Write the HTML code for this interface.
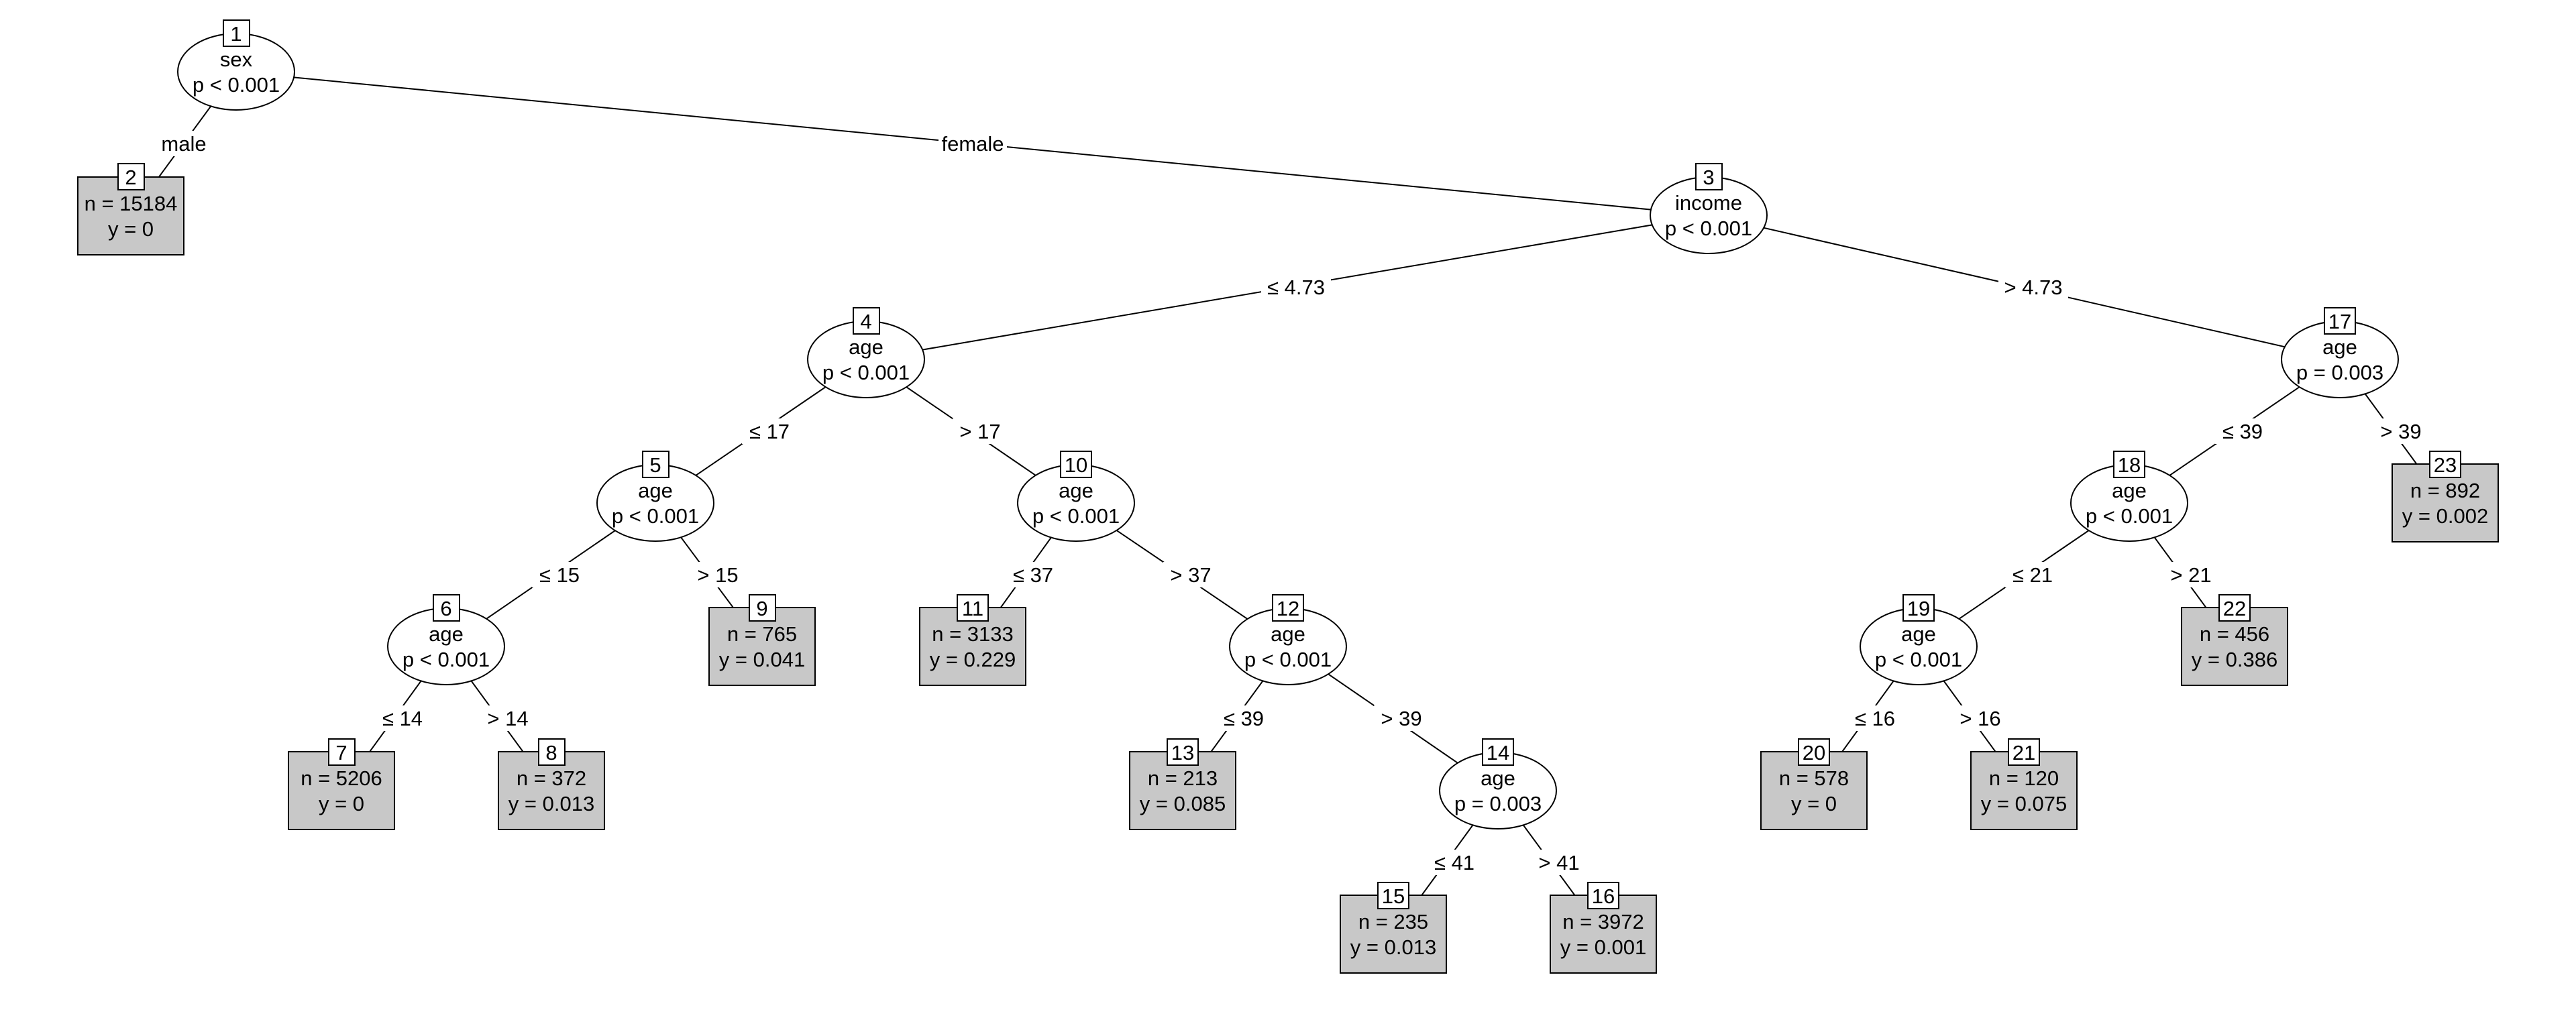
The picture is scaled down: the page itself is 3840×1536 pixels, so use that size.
<!DOCTYPE html>
<html><head><meta charset="utf-8"><style>
html,body{margin:0;padding:0;background:#fff;}
svg{display:block;}
text{font-family:"Liberation Sans",Arial,sans-serif;font-size:31px;fill:#000;text-anchor:middle;}
</style></head><body>
<svg width="3840" height="1536" viewBox="0 0 3840 1536" xmlns="http://www.w3.org/2000/svg">
<g stroke="#000" stroke-width="2" fill="none">
<line x1="352" y1="107" x2="195" y2="321"/>
<line x1="352" y1="107" x2="2547" y2="321"/>
<line x1="2547" y1="321" x2="1291" y2="536"/>
<line x1="2547" y1="321" x2="3488" y2="536"/>
<line x1="1291" y1="536" x2="977" y2="750"/>
<line x1="1291" y1="536" x2="1604" y2="750"/>
<line x1="977" y1="750" x2="665" y2="964"/>
<line x1="977" y1="750" x2="1136" y2="964"/>
<line x1="665" y1="964" x2="509" y2="1179"/>
<line x1="665" y1="964" x2="822" y2="1179"/>
<line x1="1604" y1="750" x2="1450" y2="964"/>
<line x1="1604" y1="750" x2="1920" y2="964"/>
<line x1="1920" y1="964" x2="1763" y2="1179"/>
<line x1="1920" y1="964" x2="2233" y2="1179"/>
<line x1="2233" y1="1179" x2="2077" y2="1393"/>
<line x1="2233" y1="1179" x2="2390" y2="1393"/>
<line x1="3488" y1="536" x2="3174" y2="750"/>
<line x1="3488" y1="536" x2="3645" y2="750"/>
<line x1="3174" y1="750" x2="2860" y2="964"/>
<line x1="3174" y1="750" x2="3331" y2="964"/>
<line x1="2860" y1="964" x2="2704" y2="1179"/>
<line x1="2860" y1="964" x2="3017" y2="1179"/>
</g>
<g fill="#fff">
<rect x="233" y="195" width="82" height="38"/>
<rect x="1399" y="195" width="102" height="38"/>
<rect x="1880" y="409" width="104" height="38"/>
<rect x="2979" y="409" width="104" height="38"/>
<rect x="1106" y="624" width="82" height="38"/>
<rect x="1420" y="624" width="82" height="38"/>
<rect x="793" y="838" width="82" height="38"/>
<rect x="1029" y="838" width="82" height="38"/>
<rect x="559" y="1052" width="82" height="38"/>
<rect x="716" y="1052" width="82" height="38"/>
<rect x="1499" y="838" width="82" height="38"/>
<rect x="1734" y="838" width="82" height="38"/>
<rect x="1813" y="1052" width="82" height="38"/>
<rect x="2048" y="1052" width="82" height="38"/>
<rect x="2127" y="1267" width="82" height="38"/>
<rect x="2283" y="1267" width="82" height="38"/>
<rect x="3302" y="624" width="82" height="38"/>
<rect x="3538" y="624" width="82" height="38"/>
<rect x="2989" y="838" width="82" height="38"/>
<rect x="3225" y="838" width="82" height="38"/>
<rect x="2754" y="1052" width="82" height="38"/>
<rect x="2911" y="1052" width="82" height="38"/>
</g>
<text x="274" y="225">male</text>
<text x="1450" y="225">female</text>
<text x="1932" y="439">≤ 4.73</text>
<text x="3031" y="439">&gt; 4.73</text>
<text x="1147" y="654">≤ 17</text>
<text x="1461" y="654">&gt; 17</text>
<text x="834" y="868">≤ 15</text>
<text x="1070" y="868">&gt; 15</text>
<text x="600" y="1082">≤ 14</text>
<text x="757" y="1082">&gt; 14</text>
<text x="1540" y="868">≤ 37</text>
<text x="1775" y="868">&gt; 37</text>
<text x="1854" y="1082">≤ 39</text>
<text x="2089" y="1082">&gt; 39</text>
<text x="2168" y="1297">≤ 41</text>
<text x="2324" y="1297">&gt; 41</text>
<text x="3343" y="654">≤ 39</text>
<text x="3579" y="654">&gt; 39</text>
<text x="3030" y="868">≤ 21</text>
<text x="3266" y="868">&gt; 21</text>
<text x="2795" y="1082">≤ 16</text>
<text x="2952" y="1082">&gt; 16</text>

<g stroke="#000" stroke-width="2" fill="#fff">
<ellipse cx="352" cy="107" rx="87" ry="57"/>
<ellipse cx="2547" cy="321" rx="87" ry="57"/>
<ellipse cx="1291" cy="536" rx="87" ry="57"/>
<ellipse cx="977" cy="750" rx="87" ry="57"/>
<ellipse cx="665" cy="964" rx="87" ry="57"/>
<ellipse cx="1604" cy="750" rx="87" ry="57"/>
<ellipse cx="1920" cy="964" rx="87" ry="57"/>
<ellipse cx="2233" cy="1179" rx="87" ry="57"/>
<ellipse cx="3488" cy="536" rx="87" ry="57"/>
<ellipse cx="3174" cy="750" rx="87" ry="57"/>
<ellipse cx="2860" cy="964" rx="87" ry="57"/>
</g>
<g stroke="#000" stroke-width="2" fill="#c8c8c8">
<rect x="116" y="264" width="158" height="116"/>
<rect x="430" y="1121" width="158" height="116"/>
<rect x="743" y="1121" width="158" height="116"/>
<rect x="1057" y="906" width="158" height="116"/>
<rect x="1371" y="906" width="158" height="116"/>
<rect x="1684" y="1121" width="158" height="116"/>
<rect x="1998" y="1335" width="158" height="116"/>
<rect x="2311" y="1335" width="158" height="116"/>
<rect x="2625" y="1121" width="158" height="116"/>
<rect x="2938" y="1121" width="158" height="116"/>
<rect x="3252" y="906" width="158" height="116"/>
<rect x="3566" y="692" width="158" height="116"/>
</g>
<g stroke="#000" stroke-width="2" fill="#fff">
<rect x="333" y="30" width="39" height="39"/>
<rect x="176" y="244" width="39" height="39"/>
<rect x="2528" y="244" width="39" height="39"/>
<rect x="1272" y="459" width="39" height="39"/>
<rect x="958" y="673" width="39" height="39"/>
<rect x="646" y="887" width="39" height="39"/>
<rect x="490" y="1102" width="39" height="39"/>
<rect x="803" y="1102" width="39" height="39"/>
<rect x="1117" y="887" width="39" height="39"/>
<rect x="1581" y="673" width="46" height="39"/>
<rect x="1427" y="887" width="46" height="39"/>
<rect x="1897" y="887" width="46" height="39"/>
<rect x="1740" y="1102" width="46" height="39"/>
<rect x="2210" y="1102" width="46" height="39"/>
<rect x="2054" y="1316" width="46" height="39"/>
<rect x="2367" y="1316" width="46" height="39"/>
<rect x="3465" y="459" width="46" height="39"/>
<rect x="3151" y="673" width="46" height="39"/>
<rect x="2837" y="887" width="46" height="39"/>
<rect x="2681" y="1102" width="46" height="39"/>
<rect x="2994" y="1102" width="46" height="39"/>
<rect x="3308" y="887" width="46" height="39"/>
<rect x="3622" y="673" width="46" height="39"/>
</g>
<text x="352" y="61">1</text>
<text x="195" y="275">2</text>
<text x="2547" y="275">3</text>
<text x="1291" y="490">4</text>
<text x="977" y="704">5</text>
<text x="665" y="918">6</text>
<text x="509" y="1133">7</text>
<text x="822" y="1133">8</text>
<text x="1136" y="918">9</text>
<text x="1604" y="704">10</text>
<text x="1450" y="918">11</text>
<text x="1920" y="918">12</text>
<text x="1763" y="1133">13</text>
<text x="2233" y="1133">14</text>
<text x="2077" y="1347">15</text>
<text x="2390" y="1347">16</text>
<text x="3488" y="490">17</text>
<text x="3174" y="704">18</text>
<text x="2860" y="918">19</text>
<text x="2704" y="1133">20</text>
<text x="3017" y="1133">21</text>
<text x="3331" y="918">22</text>
<text x="3645" y="704">23</text>

<text x="352" y="99">sex</text><text x="352" y="137">p &lt; 0.001</text>
<text x="2547" y="313">income</text><text x="2547" y="351">p &lt; 0.001</text>
<text x="1291" y="528">age</text><text x="1291" y="566">p &lt; 0.001</text>
<text x="977" y="742">age</text><text x="977" y="780">p &lt; 0.001</text>
<text x="665" y="956">age</text><text x="665" y="994">p &lt; 0.001</text>
<text x="1604" y="742">age</text><text x="1604" y="780">p &lt; 0.001</text>
<text x="1920" y="956">age</text><text x="1920" y="994">p &lt; 0.001</text>
<text x="2233" y="1171">age</text><text x="2233" y="1209">p = 0.003</text>
<text x="3488" y="528">age</text><text x="3488" y="566">p = 0.003</text>
<text x="3174" y="742">age</text><text x="3174" y="780">p &lt; 0.001</text>
<text x="2860" y="956">age</text><text x="2860" y="994">p &lt; 0.001</text>

<text x="195" y="314">n = 15184</text><text x="195" y="352">y = 0</text>
<text x="509" y="1171">n = 5206</text><text x="509" y="1209">y = 0</text>
<text x="822" y="1171">n = 372</text><text x="822" y="1209">y = 0.013</text>
<text x="1136" y="956">n = 765</text><text x="1136" y="994">y = 0.041</text>
<text x="1450" y="956">n = 3133</text><text x="1450" y="994">y = 0.229</text>
<text x="1763" y="1171">n = 213</text><text x="1763" y="1209">y = 0.085</text>
<text x="2077" y="1385">n = 235</text><text x="2077" y="1423">y = 0.013</text>
<text x="2390" y="1385">n = 3972</text><text x="2390" y="1423">y = 0.001</text>
<text x="2704" y="1171">n = 578</text><text x="2704" y="1209">y = 0</text>
<text x="3017" y="1171">n = 120</text><text x="3017" y="1209">y = 0.075</text>
<text x="3331" y="956">n = 456</text><text x="3331" y="994">y = 0.386</text>
<text x="3645" y="742">n = 892</text><text x="3645" y="780">y = 0.002</text>
</svg>
</body></html>
